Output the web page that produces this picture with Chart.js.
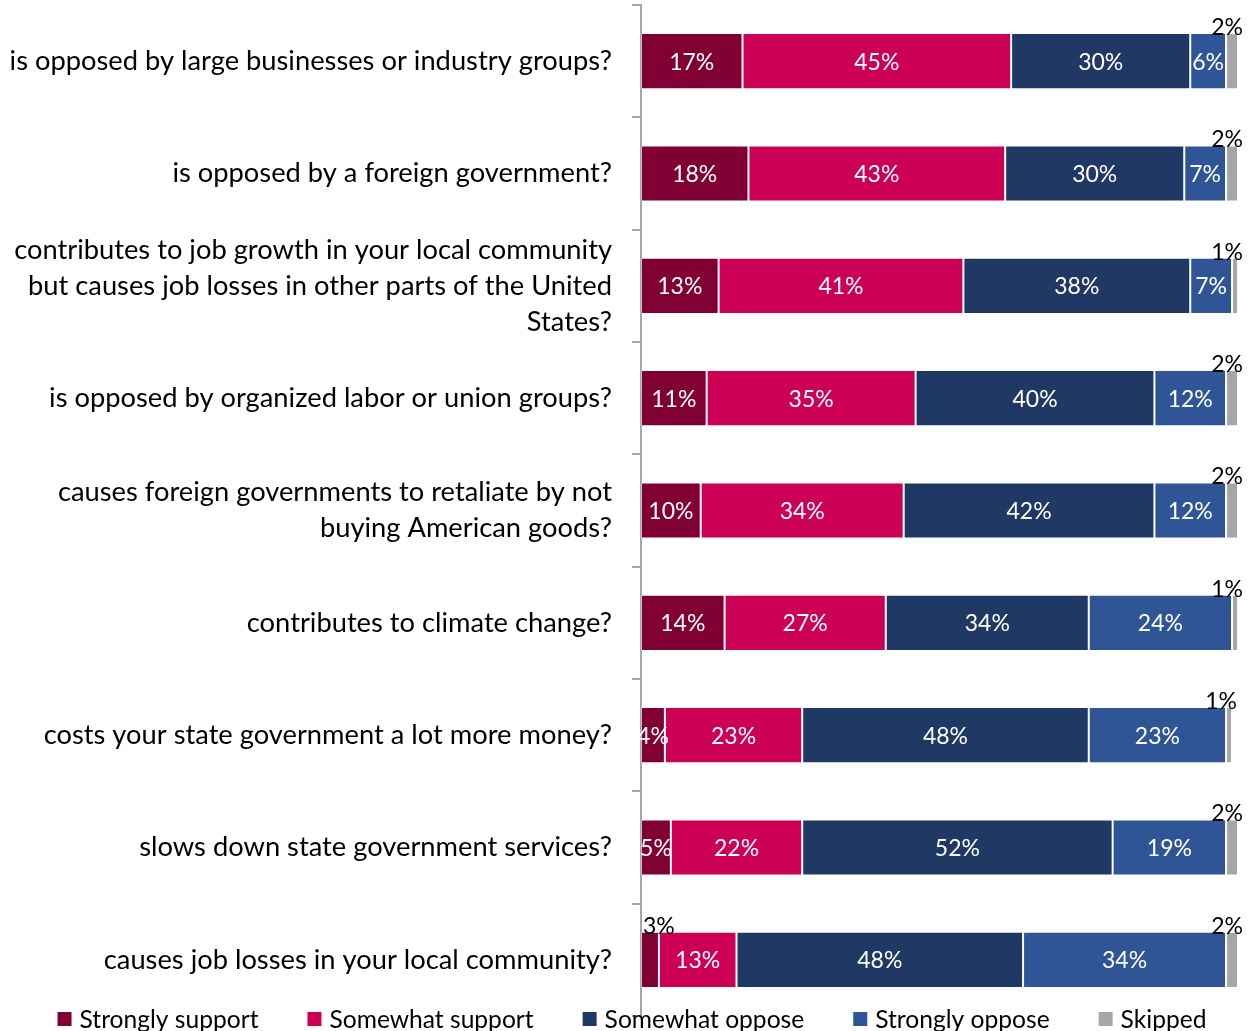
<!DOCTYPE html>
<html>
<head>
<meta charset="utf-8">
<title>Support and opposition by condition</title>
<script src="https://cdn.jsdelivr.net/npm/chart.js@4.4.1/dist/chart.umd.min.js"></script>
<style>
  html, body { margin: 0; padding: 0; background: #fff; overflow: hidden; }
  #wrap { width: 1253px; height: 1031px; position: relative; }
</style>
</head>
<body>
<div id="wrap"><canvas id="stackChart"></canvas></div>
<script>
const FONT = 'Lato, "Open Sans", sans-serif';

const categories = [
    'is opposed by large businesses or industry groups?',
    'is opposed by a foreign government?',
    ['contributes to job growth in your local community', 'but causes job losses in other parts of the United', 'States?'],
    'is opposed by organized labor or union groups?',
    ['causes foreign governments to retaliate by not', 'buying American goods?'],
    'contributes to climate change?',
    'costs your state government a lot more money?',
    'slows down state government services?',
    'causes job losses in your local community?'
];

const stronglySupport = [17, 18, 13, 11, 10, 14, 4, 5, 3];
const somewhatSupport = [45, 43, 41, 35, 34, 27, 23, 22, 13];
const somewhatOppose  = [30, 30, 38, 40, 42, 34, 48, 52, 48];
const stronglyOppose  = [6, 7, 7, 12, 12, 24, 23, 19, 34];
const skipped         = [2, 2, 1, 2, 2, 1, 1, 2, 2];

// percent labels inside the segments; tiny ones go above the bar in black
const segmentLabels = {
    id: 'segmentLabels',
    afterDatasetsDraw(chart) {
        const ctx = chart.ctx;
        ctx.save();
        ctx.font = '23px ' + FONT;
        chart.data.datasets.forEach((ds, i) => {
            const meta = chart.getDatasetMeta(i);
            meta.data.forEach((bar, j) => {
                const v = ds.data[j];
                const p = bar.getProps(['x', 'y', 'base', 'height'], true);
                const left = Math.min(p.x, p.base);
                const right = Math.max(p.x, p.base);
                const top = p.y - p.height / 2;
                const text = v + '%';
                if (v <= 3) {
                    ctx.fillStyle = '#000';
                    ctx.textBaseline = 'alphabetic';
                    if (i === 0) {
                        ctx.textAlign = 'left';
                        ctx.fillText(text, left + 2, top + 2);
                    } else {
                        ctx.textAlign = 'right';
                        ctx.fillText(text, right + 5, top + 2);
                    }
                } else {
                    ctx.fillStyle = '#fff';
                    ctx.textAlign = 'center';
                    ctx.textBaseline = 'middle';
                    ctx.fillText(text, (left + right) / 2, p.y + 1);
                }
            });
        });
        ctx.restore();
    }
};

// single legend row along the bottom edge, overlapping the last tick
const legendRow = {
    id: 'legendRow',
    afterDraw(chart) {
        const ctx = chart.ctx;
        const box = 14, gap = 8, spacing = 49, y = 1019;
        ctx.save();
        ctx.font = '24.6px ' + FONT;
        const items = chart.data.datasets.map(ds => ({
            text: ds.label,
            color: ds.backgroundColor,
            w: box + gap + ctx.measureText(ds.label).width
        }));
        const total = items.reduce((s, it) => s + it.w, 0) + spacing * (items.length - 1);
        let x = 632 - total / 2;
        ctx.textBaseline = 'middle';
        ctx.textAlign = 'left';
        items.forEach(it => {
            ctx.fillStyle = it.color;
            ctx.fillRect(x, y - box / 2, box, box);
            ctx.fillStyle = '#000';
            ctx.fillText(it.text, x + box + gap, y + 1);
            x += it.w + spacing;
        });
        ctx.restore();
    }
};

const seg = (label, data, color) => ({
    label: label,
    data: data,
    backgroundColor: color,
    borderColor: 'rgba(255, 255, 255, 0.3)',
    borderWidth: 1,
    borderSkipped: false,
    barPercentage: 0.5,
    categoryPercentage: 1
});

const ctx = document.getElementById('stackChart').getContext('2d');
const stackChart = new Chart(ctx, {
    type: 'bar',
    data: {
        labels: categories,
        datasets: [
            seg('Strongly support', stronglySupport, '#800034'),
            seg('Somewhat support', somewhatSupport, '#cc0055'),
            seg('Somewhat oppose', somewhatOppose, '#203864'),
            seg('Strongly oppose', stronglyOppose, '#2f5597'),
            seg('Skipped', skipped, '#a6a6a6')
        ]
    },
    options: {
        indexAxis: 'y',
        responsive: true,
        maintainAspectRatio: false,
        animation: false,
        layout: { padding: { top: 5, right: 15, bottom: 15, left: 10 } },
        plugins: {
            legend: { display: false },
            tooltip: { enabled: false }
        },
        scales: {
            x: {
                stacked: true,
                display: false,
                min: 0,
                max: 100
            },
            y: {
                stacked: true,
                // fixed label column, no extra room reserved above/below
                afterFit: (scale) => {
                    scale.width = 631;
                    scale.paddingTop = 0;
                    scale.paddingBottom = 0;
                },
                grid: {
                    drawOnChartArea: false,
                    drawTicks: true,
                    tickLength: 9,
                    color: '#a6a6a6',
                    lineWidth: 2
                },
                border: { display: true, color: '#a6a6a6', width: 2 },
                ticks: {
                    color: '#000',
                    padding: 20,
                    font: { family: FONT, size: 27.3, lineHeight: 1.32 }
                }
            }
        }
    },
    plugins: [segmentLabels, legendRow]
});
</script>
</body>
</html>
